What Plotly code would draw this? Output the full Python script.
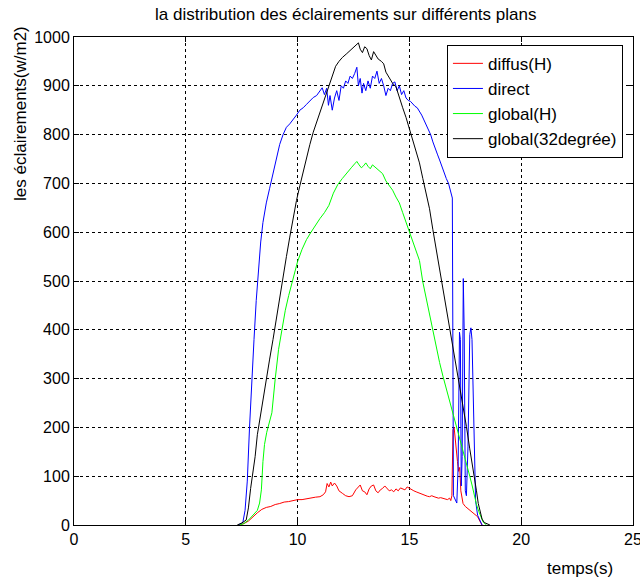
import plotly.graph_objects as go

# ---- data ----
t_direct = [7.35,7.55,7.65,7.75,7.85,7.95,8.05,8.15,8.25,8.35,8.45,8.6,8.75,8.9,9.05,9.2,9.35,9.5,9.65,9.8,9.95,
            10.1,10.25,10.4,10.55,10.7,10.85,11.0,11.1,11.2,11.3,11.38,11.45,11.55,11.65,11.75,11.85,11.95,12.05,
            12.15,12.25,12.35,12.45,12.55,12.65,12.72,12.8,12.88,12.95,13.05,13.15,13.25,13.35,13.45,13.55,13.65,
            13.75,13.85,13.95,14.05,14.15,14.25,14.35,14.45,14.55,14.65,14.75,14.85,14.95,15.05,15.15,15.25,15.35,
            15.45,15.55,15.65,15.75,15.85,15.95,16.05,16.15,16.25,16.35,16.45,16.55,16.65,16.75,16.85,16.92,16.97,
            17.05,17.12,17.18,17.24,17.28,17.32,17.36,17.41,17.45,17.5,17.55,17.62,17.7,17.75,17.8,17.86,17.9,
            17.96,18.05,18.15,18.25]
direct = [0,5,30,90,200,300,380,460,530,580,620,660,690,720,750,780,800,815,822,830,840,
          850,855,862,870,876,880,890,896,882,895,860,880,850,875,890,870,900,895,
          910,905,920,915,925,938,900,915,885,905,890,910,895,920,915,930,905,
          915,900,880,895,890,905,908,890,900,882,890,875,870,868,862,858,855,
          848,840,830,820,810,800,785,770,760,748,735,720,710,700,685,670,60,
          50,45,120,395,380,80,140,505,400,70,60,160,390,404,380,250,120,
          50,20,8,0]

t_global32 = [7.3,7.5,7.7,7.8,7.9,8.0,8.1,8.2,8.3,8.45,8.6,8.75,8.9,9.05,9.2,9.35,9.5,9.65,9.8,9.95,10.1,10.25,
              10.4,10.55,10.7,10.85,11.0,11.15,11.3,11.45,11.6,11.7,11.85,12.0,12.2,12.35,12.5,12.6,12.72,12.8,
              12.9,13.0,13.1,13.2,13.3,13.4,13.5,13.6,13.75,13.85,13.95,14.1,14.25,14.4,14.55,14.7,14.85,15.0,
              15.15,15.3,15.45,15.6,15.75,15.9,16.05,16.2,16.35,16.5,16.65,16.8,16.95,17.1,17.2,17.35,17.45,
              17.55,17.7,17.8,17.9,18.0,18.08,18.15,18.25,18.35,18.6]
global32 = [0,4,10,35,75,105,140,185,215,255,300,340,380,425,470,510,550,590,630,665,695,725,
            755,780,805,825,845,865,885,902,925,940,950,958,966,972,978,982,988,975,
            968,980,976,962,953,970,962,955,950,945,928,915,905,898,875,855,835,812,
            790,765,742,710,680,648,605,565,525,485,450,410,362,330,302,256,230,
            202,156,130,102,70,44,28,12,5,0]

t_globalH = [7.4,7.6,7.8,8.0,8.2,8.3,8.38,8.45,8.52,8.62,8.75,8.85,9.0,9.15,9.3,9.45,9.6,9.8,10.0,10.2,10.4,
             10.6,10.8,11.0,11.2,11.4,11.6,11.8,12.0,12.2,12.4,12.55,12.65,12.75,12.85,12.95,13.05,13.15,13.25,
             13.35,13.5,13.65,13.8,13.95,14.1,14.25,14.4,14.55,14.7,14.85,15.0,15.15,15.3,15.45,15.6,15.75,15.9,
             16.05,16.2,16.35,16.5,16.65,16.8,16.95,17.1,17.25,17.4,17.55,17.7,17.8,17.9,18.0,18.1,18.2,18.3,18.45]
globalH = [0,3,10,20,30,45,72,130,165,190,210,230,300,360,400,440,470,505,540,565,585,
           600,615,628,640,655,680,698,710,720,732,740,745,738,732,736,742,735,730,
           738,732,725,720,705,695,686,672,660,640,620,600,580,560,542,498,465,430,
           393,360,333,305,280,255,229,205,180,154,125,100,82,60,42,28,15,6,0]

t_diffus = [7.4,7.6,7.8,8.0,8.2,8.4,8.6,8.8,9.0,9.2,9.4,9.6,9.8,10.0,10.2,10.4,10.6,10.8,11.0,11.15,11.25,11.32,
            11.4,11.48,11.55,11.65,11.75,11.85,12.0,12.15,12.3,12.45,12.6,12.7,12.8,12.9,13.0,13.1,13.2,13.3,
            13.4,13.5,13.6,13.7,13.8,13.9,14.0,14.1,14.2,14.3,14.4,14.5,14.6,14.7,14.8,14.9,15.0,15.1,15.2,
            15.3,15.4,15.5,15.6,15.7,15.8,15.9,16.0,16.1,16.2,16.3,16.4,16.5,16.6,16.7,16.8,16.85,16.9,16.95,
            17.0,17.05,17.1,17.15,17.2,17.25,17.3,17.4,17.5,17.6,17.7,17.9,18.05,18.15,18.25]
diffus = [0,3,8,17,25,32,36,38,42,44,47,48,50,52,52,54,56,57,58,62,68,85,
          78,88,80,86,80,70,65,60,58,60,72,78,82,70,68,62,74,80,
          82,70,66,72,75,80,74,70,72,68,74,70,76,74,72,78,75,72,70,
          68,66,64,62,60,59,58,60,58,56,55,56,55,54,52,55,50,60,195,
          200,170,160,130,110,118,70,44,38,34,31,22,17,8,0]

x_ticks = [0, 5, 10, 15, 20, 25]
y_ticks = [0, 100, 200, 300, 400, 500, 600, 700, 800, 900, 1000]

names = ["diffus(H)", "direct", "global(H)", "global(32degrée)"]
colors = ["#ff0000", "#0000ff", "#00ff00", "#000000"]
series = [(t_diffus, diffus), (t_direct, direct), (t_globalH, globalH), (t_global32, global32)]

FONT = "Liberation Sans, Arial, sans-serif"

fig = go.Figure()
for (tx, ty), nm, col in zip(series, names, colors):
    fig.add_trace(go.Scatter(x=tx, y=ty, mode="lines", name=nm,
                             line=dict(color=col, width=1)))

axis_common = dict(
    showline=True, linecolor="black", linewidth=1, mirror="ticks",
    ticks="inside", ticklen=5, tickcolor="black",
    showgrid=True, gridcolor="black", gridwidth=1, griddash="3px,3px",
    zeroline=False, automargin=False,
    tickfont=dict(family=FONT, size=16, color="black"),
)

fig.update_xaxes(range=[0, 25], tickvals=x_ticks, ticklabeloverflow="allow", **axis_common)
fig.update_yaxes(range=[0, 1000], tickvals=y_ticks, **axis_common)

fig.update_layout(
    width=640, height=581,
    margin=dict(l=74, r=7, t=37, b=56, autoexpand=False),
    paper_bgcolor="white", plot_bgcolor="white",
    font=dict(family=FONT, size=14, color="black"),
    showlegend=True,
    legend=dict(x=0.982, y=0.984, xanchor="right", yanchor="top",
                bgcolor="white", bordercolor="black", borderwidth=1,
                font=dict(family=FONT, size=17, color="black"),
                tracegroupgap=0, itemwidth=30),
    annotations=[
        dict(text="la distribution des éclairements sur différents plans",
             xref="paper", yref="paper", x=(345 - 74) / 559, y=(525 - 15) / 488,
             xanchor="center", yanchor="middle", showarrow=False,
             font=dict(family=FONT, size=17, color="black")),
        dict(text="les éclairements(w/m2)", textangle=-90,
             xref="paper", yref="paper", x=(20 - 74) / 559, y=(525 - 114) / 488,
             xanchor="center", yanchor="middle", showarrow=False,
             font=dict(family=FONT, size=17, color="black")),
        dict(text="temps(s)",
             xref="paper", yref="paper", x=(580 - 74) / 559, y=(525 - 568) / 488,
             xanchor="center", yanchor="middle", showarrow=False,
             font=dict(family=FONT, size=17, color="black")),
    ],
)

fig.write_html("out.html")
